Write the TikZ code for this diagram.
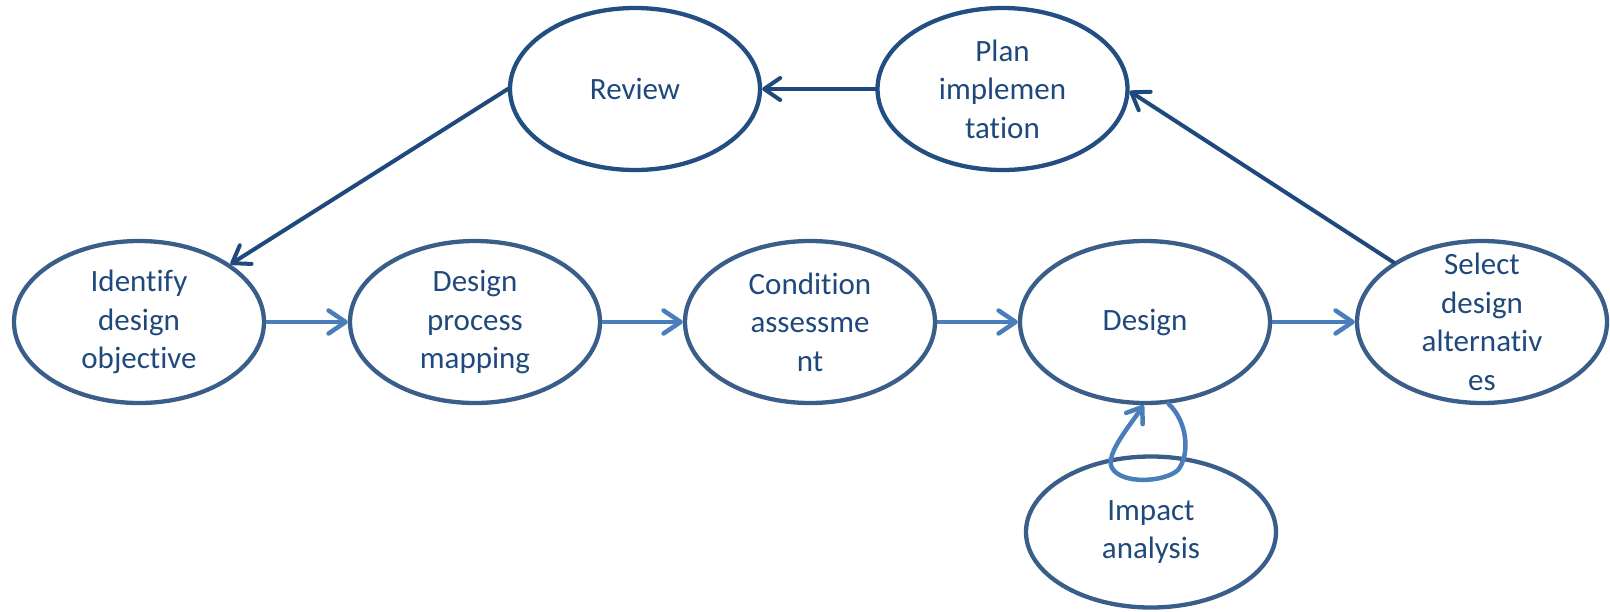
\documentclass[tikz,border=0pt]{standalone}
\usepackage{fontspec}
\setmainfont{Carlito}[Ligatures=NoCommon]
\usetikzlibrary{shapes.geometric,arrows.meta}
\definecolor{topb}{RGB}{35,78,130}
\definecolor{midb}{RGB}{58,94,138}
\definecolor{txtc}{RGB}{31,73,125}
\definecolor{darkc}{RGB}{31,73,125}
\definecolor{lightc}{RGB}{74,126,187}
\begin{document}
\begin{tikzpicture}[x=1pt,y=-1pt,
  ell/.style={ellipse, draw=midb, line width=4.3pt, minimum width=250pt, minimum height=162pt, inner sep=0pt},
  topell/.style={ell, draw=topb},
  lbl/.style={text=txtc, font=\fontsize{31}{38.5}\selectfont, align=center, inner sep=0pt},
  darr/.style={draw=darkc, line width=4pt, line cap=round, -{Straight Barb[length=16pt,width=22pt,line cap=round,line join=round]}},
  larr/.style={draw=lightc, line width=4.5pt, -{Straight Barb[length=17pt,width=23pt,line cap=round,line join=round]}},
  loopline/.style={draw=lightc, line width=4.5pt, line cap=round, -{Straight Barb[length=14pt,width=20pt,line cap=round,line join=round]}}
]
\useasboundingbox (0,0) rectangle (1610,611);
% nodes
\node[ell] (ide) at (139,322) {};
\node[ell] (dpm) at (475,322) {};
\node[ell] (con) at (810,322) {};
\node[ell] (des) at (1145,322) {};
\node[ell] (sel) at (1482,322) {};
\node[topell] (rev) at (635,89) {};
\node[topell] (pla) at (1002.5,89) {};
\node[ell, minimum height=151pt] (imp) at (1151,532) {};
% labels
\node[lbl] at (ide) {Identify\\design\\objective};
\node[lbl] at (dpm) {Design\\process\\mapping};
\node[lbl] at (con) {Condition\\assessme\\nt};
\node[lbl] at (des) {Design};
\node[lbl] at (sel) {Select\\design\\alternativ\\es};
\node[lbl] at (rev) {Review};
\node[lbl] at (pla) {Plan\\implemen\\tation};
\node[lbl] at (imp) {Impact\\analysis};
% connectors
\draw[larr] (ide.east) -- (dpm.west);
\draw[larr] (dpm.east) -- (con.west);
\draw[larr] (con.east) -- (des.west);
\draw[larr] (des.east) -- (sel.west);
\draw[darr] (sel.146) -- (pla.-1);
\draw[darr] (pla.west) -- (rev.east);
\draw[darr] (rev.west) -- (ide);
\draw[loopline] (des.-74) .. controls (1188,422) and (1190,455) .. (1178,470)
  .. controls (1165,482) and (1122,485) .. (1112,468)
  .. controls (1105,455) and (1128,428) .. (des.-91);
\end{tikzpicture}
\end{document}
